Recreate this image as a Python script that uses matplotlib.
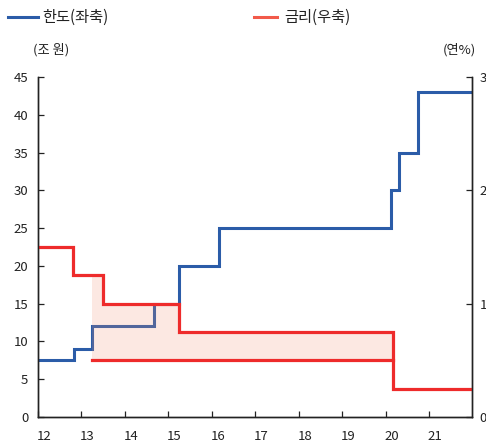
import matplotlib
matplotlib.use("Agg")
import matplotlib.pyplot as plt
import matplotlib.transforms as mtransforms
from matplotlib.lines import Line2D

plt.rcParams['font.family'] = ['Liberation Sans Narrow', 'Noto Sans CJK KR', 'DejaVu Sans']

# Data
limit_x = [12, 12.83, 13.25, 14.67, 15.25, 16.17, 20.13, 20.32, 20.75, 22]
limit = [7.5, 9, 12, 15, 20, 25, 30, 35, 43, 43]
rate_x = [12, 12.8, 13.5, 15.25, 20.17, 22]
rate = [1.5, 1.25, 1.0, 0.75, 0.25, 0.25]
floor_x = [13.25, 20.17]
floor_rate = [0.5, 0.5]
fill_x = [13.25, 13.5, 15.25, 20.17]
fill_upper = [1.25, 1.0, 0.75, 0.75]
years = list(range(12, 22))

blue = '#2b5ca8'
red = '#ee2b2b'
fill_c = '#f09070'
txt = '#222222'

fig = plt.figure(figsize=(4.86, 4.45), dpi=100)
ax = fig.add_axes([0.0782, 0.0629, 0.894, 0.764])
ax2 = ax.twinx()

ax.step(limit_x, limit, where='post', color=blue, lw=2.2, solid_joinstyle='miter')
ax2.fill_between(fill_x, fill_upper, 0.5, step='post', color=fill_c, alpha=0.2, lw=0)
ax2.step(rate_x, rate, where='post', color=red, lw=2.3, solid_joinstyle='miter')
ax2.plot(floor_x, floor_rate, color=red, lw=2.3)

ax.set_xlim(12, 22)
ax.set_ylim(0, 45)
ax2.set_ylim(0, 3)
ax.set_yticks(range(0, 46, 5))
ax2.set_yticks([0, 1, 2, 3])
ax.set_xticks(years)
ax.set_xticklabels([str(y) for y in years])

for a in (ax, ax2):
    a.spines['top'].set_visible(False)
    for s in a.spines.values():
        s.set_linewidth(1.0)
        s.set_color('#222222')
ax.tick_params(axis='both', direction='in', length=4, width=0.9, colors='#222222',
               labelsize=9.5, labelcolor=txt)
ax.tick_params(axis='y', pad=7)
ax.tick_params(axis='x', pad=9)
ax2.tick_params(axis='y', direction='in', length=4, width=0.9, colors='#222222',
                labelsize=9.5, labelcolor=txt, pad=5)

offset = mtransforms.ScaledTranslation(0.06, 0, fig.dpi_scale_trans)
for lbl in ax.get_xticklabels():
    lbl.set_transform(lbl.get_transform() + offset)

# unit labels
fig.text(33 / 486, 1 - 50 / 445, '(조 원)', fontsize=9.5, color=txt, va='center', ha='left')
fig.text(476 / 486, 1 - 50 / 445, '(연%)', fontsize=9.5, color=txt, va='center', ha='right')

# legend
fig.add_artist(Line2D([8 / 486, 38 / 486], [1 - 17 / 445, 1 - 17 / 445], color=blue, lw=2.2,
                      transform=fig.transFigure))
fig.text(42 / 486, 1 - 17 / 445, '한도(좌축)', fontsize=11, color=txt, va='center', ha='left')
fig.add_artist(Line2D([254 / 486, 277 / 486], [1 - 17 / 445, 1 - 17 / 445], color='#f25a4a', lw=2.2,
                      transform=fig.transFigure))
fig.text(284 / 486, 1 - 17 / 445, '금리(우축)', fontsize=11, color=txt, va='center', ha='left')

fig.savefig('out.png', dpi=100)
